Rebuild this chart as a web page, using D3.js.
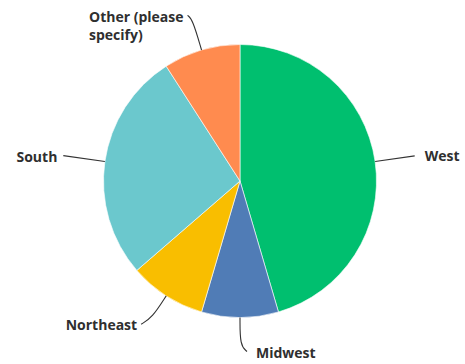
<!DOCTYPE html>
<html>
<head>
<meta charset="utf-8">
<script src="https://cdn.jsdelivr.net/npm/d3@7"></script>
<style>
  html, body { margin: 0; padding: 0; background: #fff; }
  svg { display: block; }
  .lbl { font-family: "Open Sans", Roboto, sans-serif; font-weight: 700; font-size: 14px; fill: #2f2f2f; }
</style>
</head>
<body>
<svg id="chart" width="465" height="364"></svg>
<script>
// Responses by region (percent of respondents)
const categories = ["West", "Midwest", "Northeast", "South", "Other (please specify)"];
const values = [45.45, 9.09, 9.09, 27.27, 9.09];
const colors = ["#00BF6F", "#507CB6", "#F9BE00", "#6BC8CD", "#FF8B4F"];
// Label lines as they are wrapped beside the pie
const labelLines = [["West"], ["Midwest"], ["Northeast"], ["South"], ["Other (please", "specify)"]];

const W = 465, H = 364;
const cx = 240, cy = 181, R = 136.5;

const svg = d3.select("#chart");
const g = svg.append("g").attr("transform", `translate(${cx},${cy})`);

const pie = d3.pie().sort(null).value(d => d).startAngle(0).endAngle(2 * Math.PI);
const arcs = pie(values);
const arc = d3.arc().innerRadius(0).outerRadius(R);

g.selectAll("path.slice")
  .data(arcs)
  .join("path")
  .attr("class", "slice")
  .attr("d", arc)
  .attr("fill", (d, i) => colors[i])
  .attr("stroke", "#fff")
  .attr("stroke-width", 0.6);

// Leader layout per slice: radial extension, final hook offset, label side
const leader = [
  { ext: 40, hook: null,       side: "right", gap: 10, dy: 5 },
  { ext: 28, hook: [7, 6],     side: "right", gap: 9,  dy: 6 },
  { ext: 26, hook: [-11, 6.5], side: "left",  gap: 4,  dy: 6 },
  { ext: 42, hook: null,       side: "left",  gap: 6,  dy: 6 },
  { ext: 32, hook: [-5, -4],   side: "left",  gap: 4,  dy: 7 }
];

const lineGen = d3.line().curve(d3.curveBasis);
const lh = 18;

arcs.forEach((a, i) => {
  const mid = (a.startAngle + a.endAngle) / 2;
  const ux = Math.sin(mid), uy = -Math.cos(mid);
  const p0 = [ux * R, uy * R];
  const L = leader[i];
  const p1 = [ux * (R + L.ext), uy * (R + L.ext)];
  let pts = [p0, p1];
  let end = p1;
  if (L.hook) {
    end = [p1[0] + L.hook[0], p1[1] + L.hook[1]];
    pts = [p0, p1, end];
  }
  g.append("path")
    .attr("d", lineGen(pts))
    .attr("fill", "none")
    .attr("stroke", "#333")
    .attr("stroke-width", 1.1);

  const lines = labelLines[i];
  const t = g.append("text").attr("class", "lbl");
  const spans = lines.map(s => t.append("tspan").text(s));
  const widest = d3.max(spans, s => s.node().getComputedTextLength());
  const x0 = L.side === "right" ? end[0] + L.gap : end[0] - L.gap - widest;
  const y0 = end[1] + L.dy;
  spans.forEach((s, k) => s.attr("x", x0).attr("y", y0 + k * lh));
});
</script>
</body>
</html>
